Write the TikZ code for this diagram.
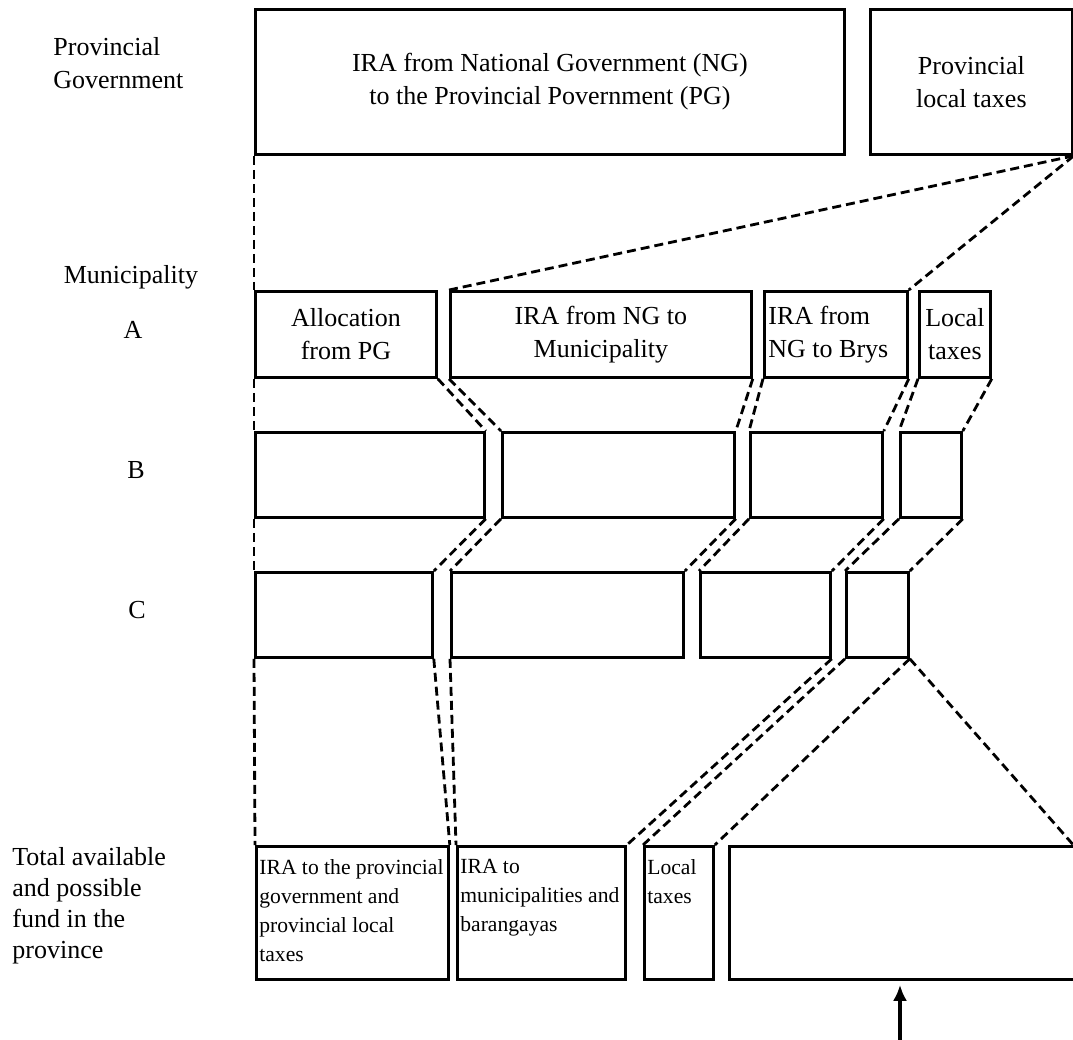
\documentclass[tikz,border=0pt]{standalone}
\usepackage{fontspec}
\setmainfont{Liberation Serif}
\usetikzlibrary{arrows.meta,calc}

\begin{document}
\begin{tikzpicture}[
  x=0.5pt, y=-0.5pt,
  font=\fontsize{13}{16.5}\selectfont,
  >=Latex,
  cell/.style={
    draw=black,
    line width=1.4pt,
    inner sep=0pt,
    anchor=north west,
    align=center
  },
  note/.style={
    anchor=north west,
    align=left,
    inner xsep=2pt,
    inner ysep=7pt,
    font=\fontsize{10.8}{14.5}\selectfont
  },
  side/.style={align=left, inner sep=0pt},
  link/.style={line width=1.4pt, dash pattern=on 4.5pt off 2.5pt}
]
  \useasboundingbox (0,0) rectangle (1073,1040);
  \clip (0,0) rectangle (1073,1040);

  % Left labels
  \node[side, anchor=west] (prov) at (53,63) {Provincial\\Government};
  \node (muni) at (131,277) {Municipality};
  \node (rowa) at (133,330) {A};
  \node (rowb) at (136,470) {B};
  \node (rowc) at (137,610) {C};
  \node[side, anchor=west, font=\fontsize{13}{15.5}\selectfont] (total) at (12,906)
    {Total available\\and possible\\fund in the\\province};

  % Provincial government
  \node[cell, minimum width=294.5pt, minimum height=72.5pt] (ng) at (254,8)
    {IRA from National Government (NG)\\to the Provincial Povernment (PG)};
  \node[cell, minimum width=101pt, minimum height=72.5pt] (plt) at (869,8)
    {Provincial\\local taxes};

  % Municipality A
  \node[cell, minimum width=90.5pt, minimum height=43pt] (a1) at (254,290) {Allocation\\from PG};
  \node[cell, minimum width=150.5pt, minimum height=43pt] (a2) at (449,290) {IRA from NG to\\Municipality};
  \node[cell, minimum height=43pt, inner xsep=2pt, text width=67.5pt, align=flush left] (a3) at (763,290) {IRA from\\NG to Brys};
  \node[cell, minimum width=35.5pt, minimum height=43pt] (a4) at (918,290) {Local\\taxes};

  % Municipality B
  \node[cell, minimum width=114.5pt, minimum height=42.5pt] (b1) at (254,431) {};
  \node[cell, minimum width=116pt, minimum height=42.5pt] (b2) at (501,431) {};
  \node[cell, minimum width=66pt, minimum height=42.5pt] (b3) at (749,431) {};
  \node[cell, minimum width=30.5pt, minimum height=42.5pt] (b4) at (899,431) {};

  % Municipality C
  \node[cell, minimum width=88.5pt, minimum height=42.5pt] (c1) at (254,571) {};
  \node[cell, minimum width=116pt, minimum height=42.5pt] (c2) at (450,571) {};
  \node[cell, minimum width=65pt, minimum height=42.5pt] (c3) at (699,571) {};
  \node[cell, minimum width=31pt, minimum height=42.5pt] (c4) at (845,571) {};

  % Total in the province
  \node[cell, minimum width=96pt, minimum height=66.5pt] (d1) at (255,845) {};
  \node[cell, minimum width=84pt, minimum height=66.5pt] (d2) at (456,845) {};
  \node[cell, minimum width=34.5pt, minimum height=66.5pt] (d3) at (643,845) {};
  \node[cell, minimum width=185pt, minimum height=66.5pt] (d4) at (728,845) {};
  \node[note] (d1t) at (d1.north west) {IRA to the provincial\\government and\\provincial local\\taxes};
  \node[note] (d2t) at (d2.north west) {IRA to\\municipalities and\\barangayas};
  \node[note] (d3t) at (d3.north west) {Local\\taxes};

  % Dashed links
  \draw[link] (ng.south west) -- (a1.north west);
  \draw[link] (plt.south east) -- (a2.north west);
  \draw[link] (plt.south east) -- (a3.north east);
  \foreach \r/\s in {a/b, b/c} {
    \foreach \i in {1,...,4} {
      \draw[link] (\r\i.south west) -- (\s\i.north west);
      \draw[link] (\r\i.south east) -- (\s\i.north east);
    }
  }
  \coordinate (edge) at (1076,848);
  \draw[link] (c1.south west) -- (d1.north west);
  \draw[link] (c1.south east) -- (d1.north east);
  \draw[link] (c2.south west) -- (d2.north west);
  \draw[link] (c3.south east) -- (d2.north east);
  \draw[link] (c4.south west) -- (d3.north west);
  \draw[link] (c4.south east) -- (d3.north east);
  \draw[link] (c4.south east) -- (edge);

  % Arrow
  \coordinate (foot) at (900,1046);
  \draw[-{Latex[length=8pt,width=7pt]}, line width=2pt, shorten >=2pt] (foot) -- (foot |- d4.south);
\end{tikzpicture}
\end{document}
